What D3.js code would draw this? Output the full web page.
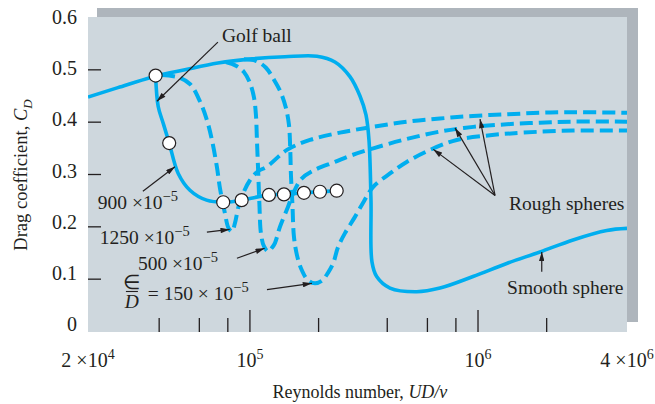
<!DOCTYPE html>
<html><head><meta charset="utf-8">
<script src="https://cdn.jsdelivr.net/npm/d3@7/dist/d3.min.js"></script>
<style>
body{margin:0;background:#fff}
svg{display:block}
text{font-family:"Liberation Serif","Times New Roman",serif;fill:#231f20}
</style>
</head><body>
<svg id="c" width="655" height="404"></svg>
<script>
// ---- data (Reynolds number, drag coefficient) ----
const smoothRe = [19500, 26370, 37170, 51860, 72360, 102000, 142400, 196700, 235900, 274500, 303700, 322700, 332600, 339400, 342800, 359500, 411200, 538400, 681300, 951000, 1336000, 1870000, 2610000, 3668000, 4500000];
const smoothCd = [0.448, 0.466, 0.486, 0.500, 0.513, 0.521, 0.525, 0.526, 0.515, 0.487, 0.450, 0.414, 0.366, 0.251, 0.133, 0.105, 0.083, 0.076, 0.083, 0.105, 0.130, 0.152, 0.175, 0.193, 0.197];

const golfRe = [38590, 39610, 41660, 44260, 48480, 54560, 64580, 76360, 91970, 121160, 140960, 172500, 202800, 240100];
const golfCd = [0.489, 0.430, 0.398, 0.360, 0.302, 0.270, 0.251, 0.247, 0.251, 0.261, 0.262, 0.265, 0.267, 0.269];
const golfMarkRe = [38590, 44260, 76360, 91970, 121160, 140960, 172500, 202800, 240100];
const golfMarkCd = [0.489, 0.360, 0.247, 0.251, 0.261, 0.262, 0.265, 0.267, 0.269];

const rough1250Re = [41110, 48330, 54560, 60350, 64770, 68130, 71670, 73870, 77700, 80490, 83390, 85950, 89050, 93650, 100000, 108420, 118730, 145300, 183350, 248100, 346400, 488300, 681300, 951000, 1340600, 1870000, 2610000, 4500000];
const rough1250Cd = [0.490, 0.486, 0.473, 0.440, 0.404, 0.366, 0.314, 0.274, 0.226, 0.198, 0.191, 0.207, 0.238, 0.265, 0.289, 0.306, 0.315, 0.347, 0.366, 0.380, 0.391, 0.401, 0.407, 0.412, 0.415, 0.418, 0.419, 0.418];

const rough500Re = [78480, 86830, 94120, 100000, 104120, 106240, 107320, 108740, 110070, 111730, 115170, 120300, 124900, 128730, 135400, 146800, 154850, 168600, 192800, 235900, 280200, 347400, 478500, 681300, 953700, 1336000, 1870000, 2618000, 4500000];
const rough500Cd = [0.515, 0.508, 0.496, 0.475, 0.448, 0.414, 0.366, 0.303, 0.242, 0.188, 0.163, 0.153, 0.160, 0.169, 0.200, 0.238, 0.264, 0.292, 0.309, 0.324, 0.337, 0.350, 0.367, 0.382, 0.391, 0.396, 0.399, 0.401, 0.401];

const rough150Re = [94120, 106240, 117550, 127470, 136770, 143850, 148290, 150250, 151300, 153610, 155960, 160750, 167390, 179630, 192800, 206950, 219860, 232000, 243220, 261070, 288750, 316230, 346400, 411200, 486800, 616000, 806500, 1128800, 1575700, 2610000, 4500000];
const rough150Cd = [0.520, 0.517, 0.504, 0.481, 0.456, 0.427, 0.395, 0.347, 0.299, 0.242, 0.181, 0.146, 0.121, 0.098, 0.092, 0.097, 0.112, 0.131, 0.161, 0.188, 0.219, 0.249, 0.276, 0.302, 0.324, 0.347, 0.366, 0.375, 0.380, 0.384, 0.384];

const yTicks = [0, 0.1, 0.2, 0.3, 0.4, 0.5, 0.6];
const yTickLabels = ["0", "0.1", "0.2", "0.3", "0.4", "0.5", "0.6"];
const xMinorTicks = [4e4, 6e4, 8e4, 2e5, 4e5, 6e5, 8e5, 2e6];
const xMajorTicks = [1e5, 1e6];
const xLabelVals = [2e4, 1e5, 1e6, 4e6];
const xLabelMant = ["2 \u00d710", "10", "10", "4 \u00d710"];
const xLabelExp = ["4", "5", "6", "6"];

// ---- layout ----
const svg = d3.select("#c");
const L = 88, T = 17, R = 627, B = 332;
const x = d3.scaleLog().domain([19500, 4500000]).range([L, R]);
const y = d3.scaleLinear().domain([0, 0.6]).range([331.5, 17.5]);
const yLab = d3.scaleLinear().domain([0, 0.6]).range([331, 24]);
const ink = "#231f20", blue = "#00aeef";
const FS = 19.5, SUP = 14.5;

svg.append("rect").attr("x", L + 9).attr("y", T - 9).attr("width", R - L + 2).attr("height", B - T - 1).attr("fill", "#aeb5bc");
svg.append("rect").attr("x", L).attr("y", T).attr("width", R - L).attr("height", B - T).attr("fill", "#ced7dd");

const defs = svg.append("defs");
defs.append("clipPath").attr("id", "clip").append("rect").attr("x", L).attr("y", T).attr("width", R - L).attr("height", B - T);
defs.append("marker").attr("id", "ah").attr("viewBox", "0 0 10 6").attr("refX", 10).attr("refY", 3)
  .attr("markerWidth", 10).attr("markerHeight", 5.5).attr("markerUnits", "userSpaceOnUse").attr("orient", "auto")
  .append("path").attr("d", "M0,0L10,3L0,6Z").attr("fill", ink);

// ticks
svg.append("g").selectAll("line").data(yTicks.filter(v => v > 0 && v < 0.6)).join("line")
  .attr("x1", L).attr("x2", L + 13).attr("y1", d => y(d)).attr("y2", d => y(d))
  .attr("stroke", ink).attr("stroke-width", 1.3);
svg.append("g").selectAll("text").data(yTicks).join("text")
  .attr("x", 77).attr("y", d => yLab(d)).attr("text-anchor", "end").attr("font-size", 20)
  .text((d, i) => yTickLabels[i]);

svg.append("g").selectAll("line").data(xMinorTicks).join("line")
  .attr("x1", d => x(d)).attr("x2", d => x(d)).attr("y1", B).attr("y2", B - 14)
  .attr("stroke", ink).attr("stroke-width", 1.3);
svg.append("g").selectAll("line").data(xMajorTicks).join("line")
  .attr("x1", d => x(d)).attr("x2", d => x(d)).attr("y1", B).attr("y2", B - 22)
  .attr("stroke", ink).attr("stroke-width", 1.3);

const xl = svg.append("g").selectAll("text").data(xLabelVals).join("text")
  .attr("x", (d, i) => i === 0 ? L : (i === xLabelVals.length - 1 ? R : x(d)))
  .attr("y", 367).attr("text-anchor", "middle").attr("font-size", 20);
xl.append("tspan").text((d, i) => xLabelMant[i]);
xl.append("tspan").attr("dy", -8).attr("font-size", 14).text((d, i) => xLabelExp[i]);

// curves
const line = d3.line().x(d => x(d[0])).y(d => y(d[1])).curve(d3.curveCatmullRom.alpha(0.5));
const zip = (a, b) => a.map((v, i) => [v, b[i]]);
const cg = svg.append("g").attr("clip-path", "url(#clip)");
[[rough1250Re, rough1250Cd], [rough500Re, rough500Cd], [rough150Re, rough150Cd]].forEach(([a, b]) => {
  cg.append("path").attr("d", line(zip(a, b))).attr("fill", "none").attr("stroke", blue)
    .attr("stroke-width", 4).attr("stroke-dasharray", "13,6");
});
cg.append("path").attr("d", line(zip(smoothRe, smoothCd))).attr("fill", "none").attr("stroke", blue).attr("stroke-width", 3.6);
cg.append("path").attr("d", line(zip(golfRe, golfCd))).attr("fill", "none").attr("stroke", blue).attr("stroke-width", 3.6);
svg.append("g").selectAll("circle").data(zip(golfMarkRe, golfMarkCd)).join("circle")
  .attr("cx", d => x(d[0])).attr("cy", d => y(d[1])).attr("r", 6.5)
  .attr("fill", "#fff").attr("stroke", ink).attr("stroke-width", 1.2);

// annotations (anchored in data space)
function arrow(r1, c1, r2, c2) {
  svg.append("line").attr("x1", x(r1)).attr("y1", y(c1)).attr("x2", x(r2)).attr("y2", y(c2))
    .attr("stroke", ink).attr("stroke-width", 1.2).attr("marker-end", "url(#ah)");
}
function label(re, cd, main, sup) {
  const t = svg.append("text").attr("x", x(re)).attr("y", y(cd)).attr("font-size", FS);
  t.append("tspan").text(main);
  if (sup) t.append("tspan").attr("dy", -8).attr("font-size", SUP).text(sup);
  return t;
}
label(75370, 0.5538, "Golf ball");
arrow(72360, 0.553, 39100, 0.440);
label(21540, 0.2341, "900 \u00d710", "\u22125");
arrow(33940, 0.268, 46890, 0.315);
label(21980, 0.1672, "1250 \u00d710", "\u22125");
arrow(64770, 0.190, 81500, 0.195);
label(32280, 0.1175, "500 \u00d710", "\u22125");
arrow(87700, 0.140, 116000, 0.159);
label(35690, 0.0602, "= 150 \u00d7 10", "\u22125");
arrow(118730, 0.080, 187000, 0.092);
// epsilon / D fraction
const fx = x(30380), fy = y(0.0602);
svg.append("text").attr("x", fx).attr("y", fy - 11).attr("text-anchor", "middle").attr("font-size", FS).text("\u2208");
svg.append("line").attr("x1", fx - 6).attr("x2", fx + 6).attr("y1", fy - 8.5).attr("y2", fy - 8.5).attr("stroke", ink).attr("stroke-width", 1.1);
svg.append("text").attr("x", fx).attr("y", fy + 8).attr("text-anchor", "middle").attr("font-size", FS).attr("font-style", "italic").text("D");

label(1368000, 0.2322, "Rough spheres");
arrow(1187400, 0.260, 636800, 0.348);
arrow(1187400, 0.260, 792700, 0.389);
arrow(1187400, 0.260, 1020500, 0.406);
label(1340600, 0.0717, "Smooth sphere");
arrow(1903000, 0.114, 1903000, 0.152);

// axis titles
const xt = svg.append("text").attr("x", 360).attr("y", 398).attr("text-anchor", "middle").attr("font-size", 18);
xt.append("tspan").text("Reynolds number, ");
xt.append("tspan").attr("font-style", "italic").text("UD/\u03bd");
const yt = svg.append("text").attr("transform", "translate(27,175) rotate(-90)").attr("text-anchor", "middle").attr("font-size", 18.5);
yt.append("tspan").text("Drag coefficient, ");
yt.append("tspan").attr("font-style", "italic").text("C");
yt.append("tspan").attr("font-style", "italic").attr("font-size", 13).attr("dy", 5).text("D");
</script>
</body></html>
